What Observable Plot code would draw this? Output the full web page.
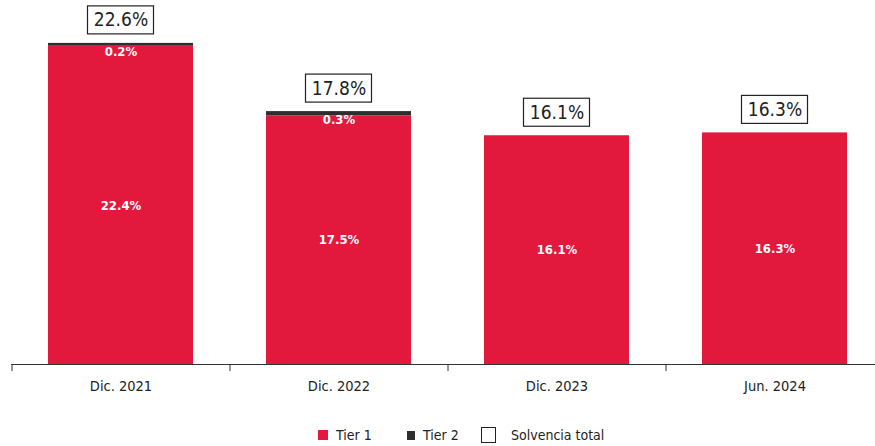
<!DOCTYPE html>
<html><head><meta charset="utf-8">
<script src="https://cdn.jsdelivr.net/npm/d3@7"></script>
<script src="https://cdn.jsdelivr.net/npm/@observablehq/plot@0.6"></script>
<style>
html,body{margin:0;padding:0;background:#fff;}
#chart{width:875px;}
.legend{position:relative;width:875px;height:34px;font-family:"Liberation Sans Narrow","DejaVu Sans Condensed","Liberation Sans",sans-serif;font-size:14px;color:#222;}
.legend span{position:absolute;line-height:16px;}
</style></head>
<body>
<div id="chart"></div>
<script>
const categories = ["Dic. 2021", "Dic. 2022", "Dic. 2023", "Jun. 2024"];
const tier1 = [22.4, 17.5, 16.1, 16.3];
const tier2 = [0.2, 0.3, 0, 0];
const total = [22.6, 17.8, 16.1, 16.3];
const seriesNames = ["Tier 1", "Tier 2"];
const totalName = "Solvencia total";
const colors = ["#E2183D", "#2E2E2E"];

const long = [];
categories.forEach((c, i) => {
  long.push({cat: c, serie: "Tier 1", v: tier1[i], i});
  long.push({cat: c, serie: "Tier 2", v: tier2[i], i});
});
const rows = categories.map((c, i) => ({cat: c, t1: tier1[i], t2: tier2[i], tot: total[i]}));
const fmt = v => v.toFixed(1) + "%";
const font = '"Liberation Sans Narrow","DejaVu Sans Condensed","Liberation Sans",sans-serif';

const step = 218;
const plot = Plot.plot({
  width: 875,
  height: 412,
  marginLeft: 11,
  marginRight: 0,
  marginTop: 23,
  marginBottom: 48,
  style: {fontFamily: font, background: "#fff"},
  x: {domain: categories, range: [11, 11 + step * 4], paddingInner: 0.335, paddingOuter: 0.1675, label: null},
  y: {domain: [0, 24], axis: null},
  color: {domain: seriesNames, range: colors},
  marks: [
    Plot.barY(long, {x: "cat", y: "v", fill: "serie", order: seriesNames}),
    Plot.ruleY([0], {stroke: "#333", strokeWidth: 1}),
    Plot.ruleX(categories, {x: d => d, dx: -step / 2, y1: 0, y2: -0.5, stroke: "#333"}),
    Plot.ruleX([categories[3]], {x: d => d, dx: step / 2, y1: 0, y2: -0.5, stroke: "#333"}),
    Plot.axisX({tickSize: 0, tickPadding: 16, fontSize: 14.5, fill: "#222"}),
    Plot.text(rows, {x: "cat", y: d => d.t1 / 2, text: d => fmt(d.t1), fill: "#fff", fontWeight: "bold", fontSize: 13}),
    Plot.text(rows.filter(d => d.t2 > 0), {x: "cat", y: "tot", dy: 8, text: d => fmt(d.t2), fill: "#fff", fontWeight: "bold", fontSize: 13}),
    Plot.barY(rows, {x: "cat", y1: "tot", y2: "tot", insetLeft: 39.5, insetRight: 39.5, insetTop: -37, insetBottom: 9, fill: "#fff", stroke: "#222", strokeWidth: 1.2}),
    Plot.text(rows, {x: "cat", y: "tot", dy: -23, text: d => fmt(d.tot), fill: "#222", fontSize: 19})
  ]
});
document.getElementById("chart").appendChild(plot);

const leg = document.createElement("div");
leg.className = "legend";
leg.innerHTML = `
<span style="left:318px;top:18px;width:10px;height:10px;background:${colors[0]}"></span>
<span style="left:336px;top:15px">${seriesNames[0]}</span>
<span style="left:407px;top:19px;width:8px;height:9px;background:${colors[1]}"></span>
<span style="left:423px;top:15px">${seriesNames[1]}</span>
<span style="left:481px;top:15px;width:15px;height:16px;border:1px solid #222;box-sizing:border-box"></span>
<span style="left:511px;top:15px">${totalName}</span>`;
document.body.appendChild(leg);
</script>
</body></html>
